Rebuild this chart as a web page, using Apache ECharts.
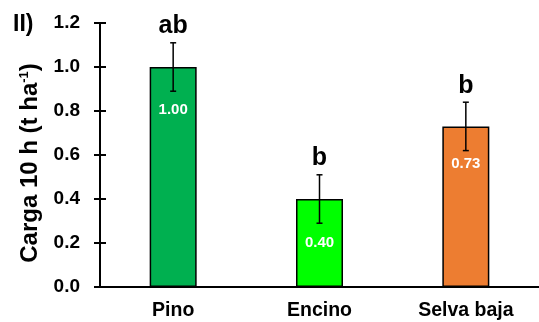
<!DOCTYPE html>
<html><head><meta charset="utf-8">
<script src="https://cdn.jsdelivr.net/npm/echarts@6/dist/echarts.min.js"></script>
<style>html,body{margin:0;padding:0;background:#fff}#c{width:539px;height:322px}</style>
</head><body><div id="c"></div>
<script>
const categories = ['Pino', 'Encino', 'Selva baja'];
const values = [1.00, 0.40, 0.73];
const errors = [0.11, 0.11, 0.11];
const letters = ['ab', 'b', 'b'];
const colors = ['#00B050', '#00FF00', '#ED7D31'];
const labelOffsets = [43, 44, 37];
const yTicks = [0, 0.2, 0.4, 0.6, 0.8, 1.0, 1.2];

const FONT = 'Liberation Sans, Arial, sans-serif';
const chart = echarts.init(document.getElementById('c'), null, {renderer: 'canvas'});

const barData = values.map((v, i) => ({
  value: v,
  itemStyle: {color: colors[i]},
  label: {position: ['50%', labelOffsets[i]]}
}));

const errData = values.map((v, i) => [i, v - errors[i], v + errors[i], letters[i]]);

chart.setOption({
  animation: false,
  grid: {left: 100, top: 23, bottom: 35, right: -4, containLabel: false},
  graphic: [{
    type: 'text', left: 13, top: 13,
    style: {text: 'II)', font: 'bold 23px ' + FONT, fill: '#000'}
  }],
  xAxis: {
    type: 'category', data: categories,
    axisLine: {lineStyle: {color: '#000', width: 2}},
    axisTick: {show: true, alignWithLabel: true, inside: true, length: 5, lineStyle: {color: '#000', width: 2}},
    axisLabel: {color: '#000', fontWeight: 'bold', fontSize: 19.5, fontFamily: FONT, margin: 14}
  },
  yAxis: [{
    type: 'value', min: 0, max: 1.2, interval: 0.2,
    name: '{a|Carga 10 h (t ha}{s|-1}{a|)}',
    nameLocation: 'middle', nameGap: 58, nameRotate: 90,
    nameTextStyle: {padding: [0, 16, 0, 0], rich: {
      a: {fontWeight: 'bold', fontSize: 24, fontFamily: FONT, color: '#000'},
      s: {fontWeight: 'bold', fontSize: 13, fontFamily: FONT, color: '#000', verticalAlign: 'top', padding: [0,0,10,0]}
    }},
    splitLine: {show: false},
    axisLine: {show: true, lineStyle: {color: '#000', width: 2}},
    axisTick: {show: true, length: 6, lineStyle: {color: '#000', width: 2}},
    axisLabel: {color: '#000', fontWeight: 'bold', fontSize: 19, fontFamily: FONT, margin: 20,
      formatter: v => v.toFixed(1)}
  }, {
    type: 'value', min: 0, max: 1.2, interval: 0.2, position: 'left',
    splitLine: {show: false},
    axisLine: {show: false},
    axisTick: {show: true, inside: true, length: 6, lineStyle: {color: '#000', width: 2}},
    axisLabel: {show: false}
  }],
  series: [{
    type: 'bar', data: barData, barWidth: 47,
    itemStyle: {borderColor: '#000', borderWidth: 1.5},
    label: {show: true, color: '#fff', fontWeight: 'bold', fontSize: 15, fontFamily: FONT,
      align: 'center', verticalAlign: 'middle', formatter: p => p.value.toFixed(2)}
  }, {
    type: 'custom', data: errData, z: 10,
    renderItem: function (params, api) {
      const x = api.value(0);
      const lo = api.coord([x, api.value(1)]);
      const hi = api.coord([x, api.value(2)]);
      const c = 3;
      const st = {stroke: '#000', lineWidth: 1.5};
      return {type: 'group', children: [
        {type: 'line', shape: {x1: lo[0], y1: lo[1], x2: hi[0], y2: hi[1]}, style: st},
        {type: 'line', shape: {x1: lo[0]-c, y1: lo[1], x2: lo[0]+c, y2: lo[1]}, style: st},
        {type: 'line', shape: {x1: hi[0]-c, y1: hi[1], x2: hi[0]+c, y2: hi[1]}, style: st},
        {type: 'text', x: hi[0], y: hi[1] - 4,
          style: {text: api.value(3), font: 'bold 25px ' + FONT, fill: '#000', align: 'center', verticalAlign: 'bottom'}}
      ]};
    },
    encode: {x: 0, y: [1, 2]}
  }]
});
</script></body></html>
